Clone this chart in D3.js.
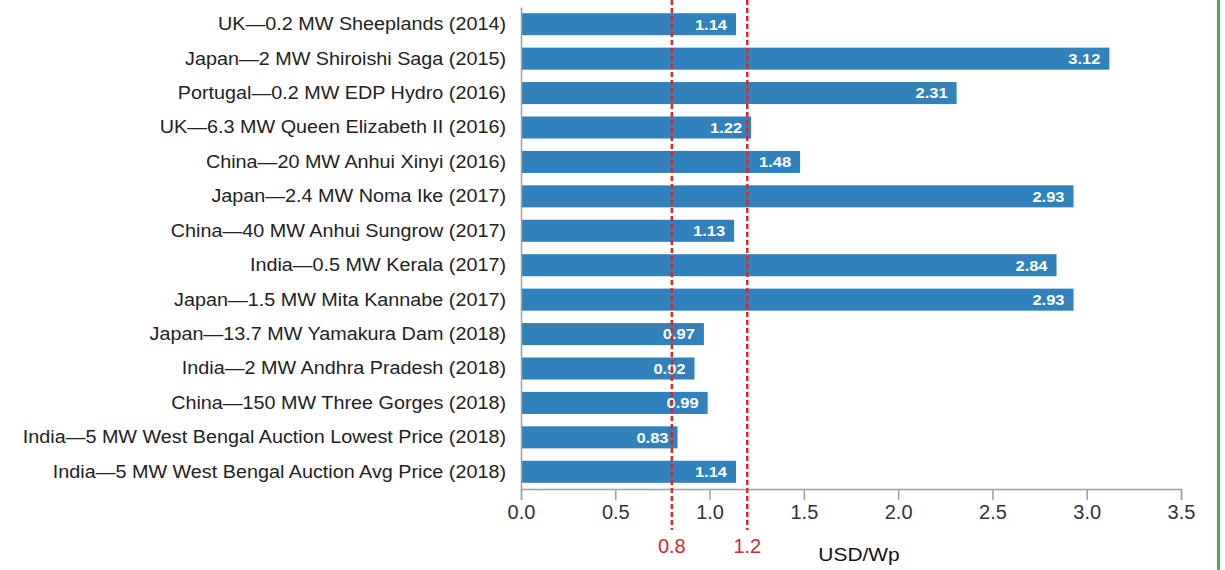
<!DOCTYPE html>
<html>
<head>
<meta charset="utf-8">
<script src="https://cdn.jsdelivr.net/npm/d3@7"></script>
<style>
  body { margin: 0; background: #fff; }
  svg { display: block; font-family: "Liberation Sans", Arial, sans-serif; }
</style>
</head>
<body>
<svg id="chart" width="1225" height="570"></svg>
<script>
// chart data
var projects = [
    "UK\u20140.2 MW Sheeplands (2014)",
    "Japan\u20142 MW Shiroishi Saga (2015)",
    "Portugal\u20140.2 MW EDP Hydro (2016)",
    "UK\u20146.3 MW Queen Elizabeth II (2016)",
    "China\u201420 MW Anhui Xinyi (2016)",
    "Japan\u20142.4 MW Noma Ike (2017)",
    "China\u201440 MW Anhui Sungrow (2017)",
    "India\u20140.5 MW Kerala (2017)",
    "Japan\u20141.5 MW Mita Kannabe (2017)",
    "Japan\u201413.7 MW Yamakura Dam (2018)",
    "India\u20142 MW Andhra Pradesh (2018)",
    "China\u2014150 MW Three Gorges (2018)",
    "India\u20145 MW West Bengal Auction Lowest Price (2018)",
    "India\u20145 MW West Bengal Auction Avg Price (2018)"
];
var costs = [1.14, 3.12, 2.31, 1.22, 1.48, 2.93, 1.13, 2.84, 2.93, 0.97, 0.92, 0.99, 0.83, 1.14];
var refLines = [0.8, 1.2];
var xTicks = [0, 0.5, 1.0, 1.5, 2.0, 2.5, 3.0, 3.5];
var unitLabel = "USD/Wp";

var svg = d3.select("#chart");
// plot area (window.top is reserved, so no "top" here)
var plotLeft = 521, plotRight = 1181, plotTop = 7, plotBottom = 489;

var x = d3.scaleLinear().domain([0, 3.5]).range([plotLeft, plotRight]);
var y = d3.scaleBand().domain(projects).range([plotTop, plotBottom]).paddingInner(0.36).paddingOuter(0.18);

var rows = projects.map(function (p, i) { return {name: p, value: costs[i]}; });

// bars
svg.append("g").selectAll("rect").data(rows).enter().append("rect")
    .attr("x", x(0) + 1)
    .attr("y", function (d) { return y(d.name); })
    .attr("width", function (d) { return x(d.value) - x(0) - 1; })
    .attr("height", y.bandwidth())
    .attr("fill", "#3181bd");

// x axis
var xAxis = svg.append("g").attr("transform", "translate(0," + plotBottom + ")")
    .call(d3.axisBottom(x).tickValues(xTicks).tickFormat(d3.format(".1f")).tickSize(11).tickPadding(5));
xAxis.select(".domain").attr("stroke", "#a0a0a0").attr("stroke-width", 1.5);
xAxis.selectAll(".tick line").attr("stroke", "#a0a0a0").attr("stroke-width", 1.5);
xAxis.selectAll(".tick text").attr("fill", "#333").attr("font-size", 20)
    .attr("font-family", "'Liberation Sans', Arial, sans-serif");

// y axis, labels a bit wider than the font gives
var yAxis = svg.append("g").attr("transform", "translate(" + plotLeft + ",0)")
    .call(d3.axisLeft(y).tickSize(0).tickPadding(14));
yAxis.select(".domain").attr("stroke", "#a0a0a0").attr("stroke-width", 1.5);
yAxis.selectAll(".tick text").attr("fill", "#222").attr("font-size", 18.5)
    .attr("font-family", "'Liberation Sans', Arial, sans-serif")
    .attr("transform", "scale(1.07,1)");

// value labels
svg.append("g").selectAll("text").data(rows).enter().append("text")
    .attr("transform", function (d) {
        return "translate(" + (x(d.value) - 9) + "," + (y(d.name) + y.bandwidth() / 2) + ") scale(1.1,1)";
    })
    .attr("dy", "0.36em")
    .attr("text-anchor", "end")
    .attr("fill", "#fff")
    .attr("font-weight", "bold")
    .attr("font-size", 15)
    .text(function (d) { return d.value.toFixed(2); });

// reference lines
var refs = svg.append("g");
refs.selectAll("line").data(refLines).enter().append("line")
    .attr("x1", function (d) { return x(d); })
    .attr("x2", function (d) { return x(d); })
    .attr("y1", 0)
    .attr("y2", 530)
    .attr("stroke", "#d42a2f")
    .attr("stroke-width", 2.5)
    .attr("stroke-dasharray", "5,3");
refs.selectAll("text").data(refLines).enter().append("text")
    .attr("x", function (d) { return x(d); })
    .attr("y", 553)
    .attr("text-anchor", "middle")
    .attr("fill", "#d42a2f")
    .attr("font-size", 20)
    .text(function (d) { return d.toFixed(1); });

svg.append("text")
    .attr("transform", "translate(859,561) scale(1.1,1)")
    .attr("text-anchor", "middle")
    .attr("fill", "#111")
    .attr("font-size", 19)
    .text(unitLabel);

// green frame edge on the right
svg.append("line")
    .attr("x1", 1218.5).attr("x2", 1218.5)
    .attr("y1", 0).attr("y2", 570)
    .attr("stroke", "#3db54a")
    .attr("stroke-width", 3);
</script>
</body>
</html>
